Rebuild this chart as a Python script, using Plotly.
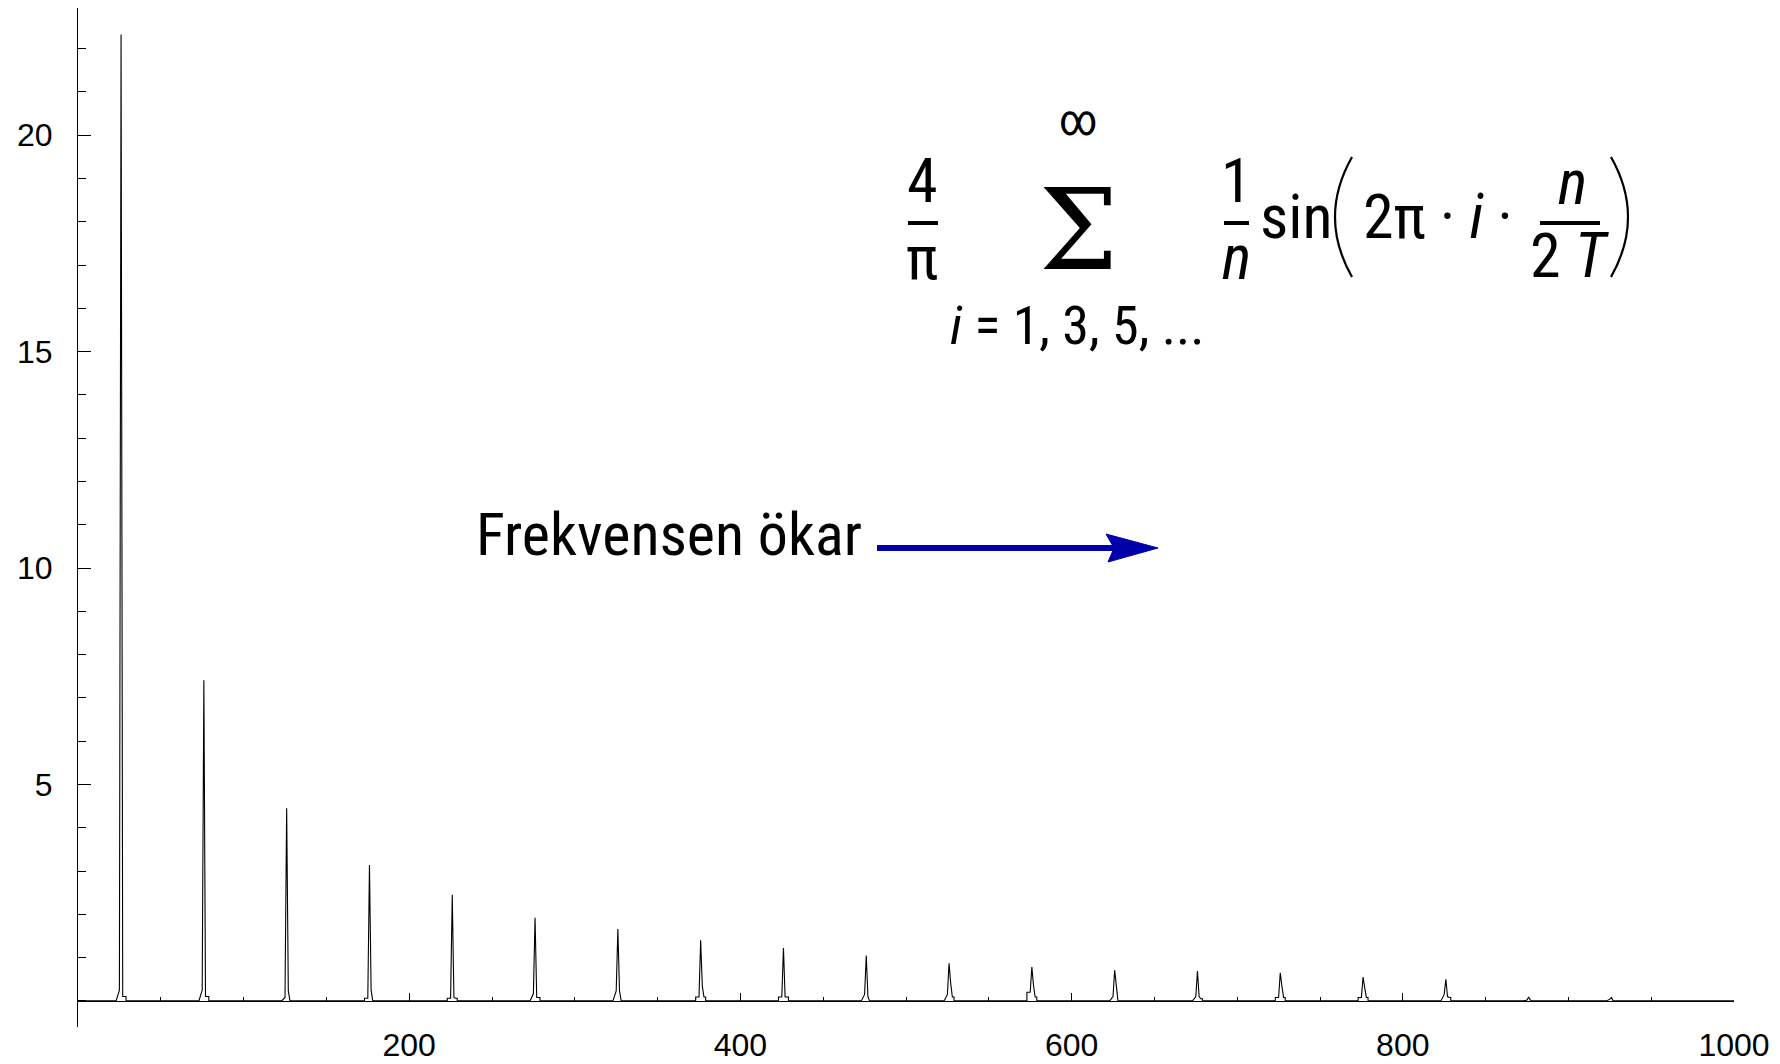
import plotly.graph_objects as go

# ---------------- data ----------------
peak_x = [26, 76, 126, 176, 226, 276, 326, 376, 426, 476,
          526, 576, 626, 676, 726, 776, 826, 876, 926]
peak_h = [22.33, 7.41, 4.45, 3.14, 2.45, 1.92, 1.66, 1.40, 1.22, 1.05,
          0.87, 0.78, 0.71, 0.69, 0.65, 0.55, 0.50, 0.09, 0.08]
shoulder_left = [0.25, 0.25, 0.08, 0.06, 0.06, 0.17, 0.23, 0.09, 0.09, 0.15,
                 0.15, 0.20, 0.10, 0.10, 0.08, 0.08, 0.15, 0.02, 0.04]
shoulder_right = [0.10, 0.10, 0.23, 0.25, 0.08, 0.08, 0.23, 0.34, 0.09, 0.10,
                  0.40, 0.36, 0.35, 0.10, 0.34, 0.30, 0.10, 0.02, 0.00]
foot_left = [0.00, 0.00, 0.00, 0.06, 0.06, 0.00, 0.00, 0.09, 0.09, 0.00,
             0.00, 0.20, 0.00, 0.00, 0.08, 0.08, 0.00, 0.00, 0.00]
foot_right = [0.10, 0.10, 0.00, 0.00, 0.06, 0.08, 0.00, 0.09, 0.09, 0.00,
              0.09, 0.09, 0.00, 0.05, 0.08, 0.08, 0.08, 0.00, 0.00]

x_ticks = [200, 400, 600, 800, 1000]
y_ticks = [5, 10, 15, 20]
x_range = [0, 1000]
y_range = [-0.603, 22.94]

# build the sampled spectrum line from the arrays above
xs, ys = [x_range[0]], [0.0]
for c, h, sl, sr, fl, fr in zip(peak_x, peak_h, shoulder_left, shoulder_right,
                                foot_left, foot_right):
    xs += [c - 3, c - 3, c - 1, c, c + 1, c + 2, c + 3, c + 3]
    ys += [0.0, fl, sl, h, sr, fr, fr, 0.0]
xs.append(x_range[1])
ys.append(0.0)

# ---------------- figure ----------------
W, H = 1780, 1064
ML, MR, MT, MB = 78, 46, 8, 37
L, R, T, B = ML, W - MR, MT, H - MB


def px(x):
    return (x - L) / (R - L)


def py(y):
    return (B - y) / (B - T)


fig = go.Figure()
fig.add_trace(go.Scatter(x=xs, y=ys, mode="lines",
                         line=dict(color="black", width=1.1),
                         hoverinfo="skip", showlegend=False))

tickfont = dict(family="Liberation Sans, Arial, sans-serif", size=32, color="black")
zero_pos = (0 - y_range[0]) / (y_range[1] - y_range[0])

fig.update_layout(
    width=W, height=H,
    margin=dict(l=ML, r=MR, t=MT, b=MB, pad=0),
    paper_bgcolor="white", plot_bgcolor="white",
    showlegend=False,
    xaxis=dict(range=x_range, anchor="free", position=zero_pos,
               showgrid=False, zeroline=False,
               showline=True, linecolor="black", linewidth=1,
               tickvals=x_ticks, ticktext=[str(v) for v in x_ticks],
               ticks="inside", ticklen=8, tickwidth=1, tickcolor="black",
               minor=dict(dtick=50, tick0=0, ticks="inside", ticklen=4,
                          tickwidth=1, tickcolor="black"),
               tickfont=tickfont, ticklabelstandoff=16, automargin=False),
    yaxis=dict(range=y_range, showgrid=False, zeroline=False,
               showline=True, linecolor="black", linewidth=1,
               tickvals=y_ticks, ticktext=[str(v) for v in y_ticks],
               ticks="inside", ticklen=13, tickwidth=1, tickcolor="black",
               minor=dict(dtick=1, tick0=0, ticks="inside", ticklen=8,
                          tickwidth=1, tickcolor="black"),
               tickfont=tickfont, ticklabelstandoff=18, automargin=False),
)

TF = "Roboto Condensed, Arial Narrow, sans-serif"


def txt(x, y, s, size, xanchor="center", yanchor="middle", family=TF):
    fig.add_annotation(x=px(x), y=py(y), xref="paper", yref="paper", text=s,
                       showarrow=False, xanchor=xanchor, yanchor=yanchor,
                       font=dict(family=family, size=size, color="black"))


def hbar(x0, x1, y, width=4, color="black"):
    fig.add_shape(type="line", xref="paper", yref="paper",
                  x0=px(x0), x1=px(x1), y0=py(y), y1=py(y),
                  line=dict(color=color, width=width))


# "Frekvensen ökar" and arrow
txt(474, 534, "Frekvensen ökar", 60, xanchor="left")
fig.add_shape(type="line", xref="paper", yref="paper",
              x0=px(877), x1=px(1115), y0=py(548), y1=py(548),
              line=dict(color="#0000aa", width=6))
arrow_path = "M {} {} L {} {} L {} {} L {} {} Z".format(
    px(1158), py(548), px(1106), py(534), px(1114), py(548), px(1108), py(562))
fig.add_shape(type="path", xref="paper", yref="paper", path=arrow_path,
              fillcolor="#0000aa", line=dict(color="#0000aa", width=1))

# formula: 4/pi
txt(922, 180, "4", 62)
hbar(908, 938, 223)
txt(922, 258, "π", 62)
# sum sign with limits
txt(1078, 120, "∞", 44)
txt(1078, 230, "Σ", 112, family="DejaVu Serif, serif")
txt(1077, 325, "<i>i</i>&nbsp;=&nbsp;1,&nbsp;3,&nbsp;5,&nbsp;...", 54)
# 1/n
txt(1236, 181, "1", 62)
hbar(1224, 1249, 223)
txt(1236, 258, "<i>n</i>", 62)
# sin
txt(1258, 216, "sin", 62, xanchor="left")
# parentheses
lp = "M {} {} Q {} {} {} {}".format(px(1352), py(157), px(1318), py(217), px(1352), py(277))
rp = "M {} {} Q {} {} {} {}".format(px(1611), py(157), px(1645), py(217), px(1611), py(277))
for p in (lp, rp):
    fig.add_shape(type="path", xref="paper", yref="paper", path=p,
                  line=dict(color="black", width=2.2))
# 2π · i ·
txt(1361, 216, "2π&nbsp;·&nbsp;<i>i</i>&nbsp;·", 62, xanchor="left")
# n / 2T
txt(1572, 183, "<i>n</i>", 62)
hbar(1540, 1600, 223)
txt(1570, 256, "2 <i>T</i>", 62)

fig.write_html("out.html")
